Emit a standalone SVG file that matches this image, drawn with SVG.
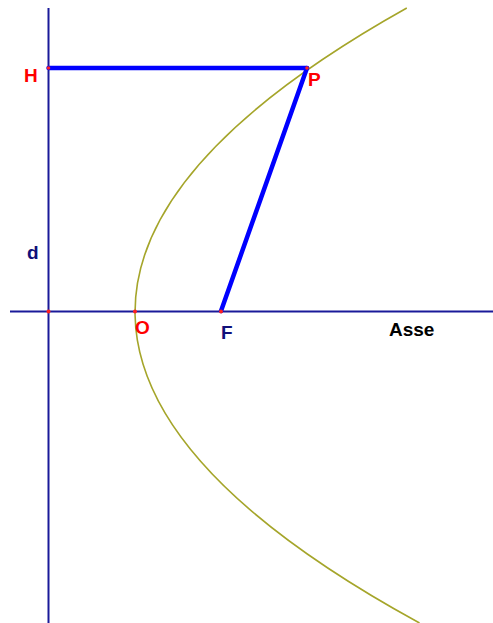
<svg xmlns="http://www.w3.org/2000/svg" width="493" height="623" viewBox="0 0 493 623">
<style>
.axis{stroke:#1a1a99;stroke-width:2;fill:none}
.seg{stroke:#0000ff;stroke-width:4.5;fill:none;stroke-linecap:round}
.curve{stroke:#a5a52a;stroke-width:1.6;fill:none}
.pt{fill:#ff2020}
text{font-family:"Liberation Sans",Arial,sans-serif;font-weight:bold;font-size:19px}
.red{fill:#ff0000}
.navy{fill:#10107a}
.blk{fill:#000}
</style>
<rect width="493" height="623" fill="#fff"/>
<g id="connectors">
<line class="axis" x1="48.5" y1="8" x2="48.5" y2="623"/>
<line class="axis" x1="10" y1="311.5" x2="493" y2="311.5"/>
<path id="parabola" class="curve" d="M406.8,8 Q-143,315.5 419.5,623"/>
<line class="seg" x1="48.5" y1="68" x2="307" y2="68"/>
<line class="seg" x1="307" y1="68" x2="221" y2="311"/>
</g>
<g id="H"><circle class="pt" cx="48.5" cy="68" r="1.8"/><text class="red" x="24" y="82">H</text></g>
<g id="P"><circle class="pt" cx="307" cy="68" r="1.8"/><text class="red" x="308" y="86">P</text></g>
<g id="d"><text class="navy" x="27" y="259">d</text></g>
<g id="D"><circle class="pt" cx="48.5" cy="311.5" r="2"/></g>
<g id="O"><circle class="pt" cx="135" cy="311.5" r="2"/><text class="red" x="135" y="334">O</text></g>
<g id="F"><circle class="pt" cx="221" cy="311.5" r="2"/><text class="navy" x="221" y="339">F</text></g>
<g id="Asse"><text class="blk" x="389" y="336">Asse</text></g>
</svg>
